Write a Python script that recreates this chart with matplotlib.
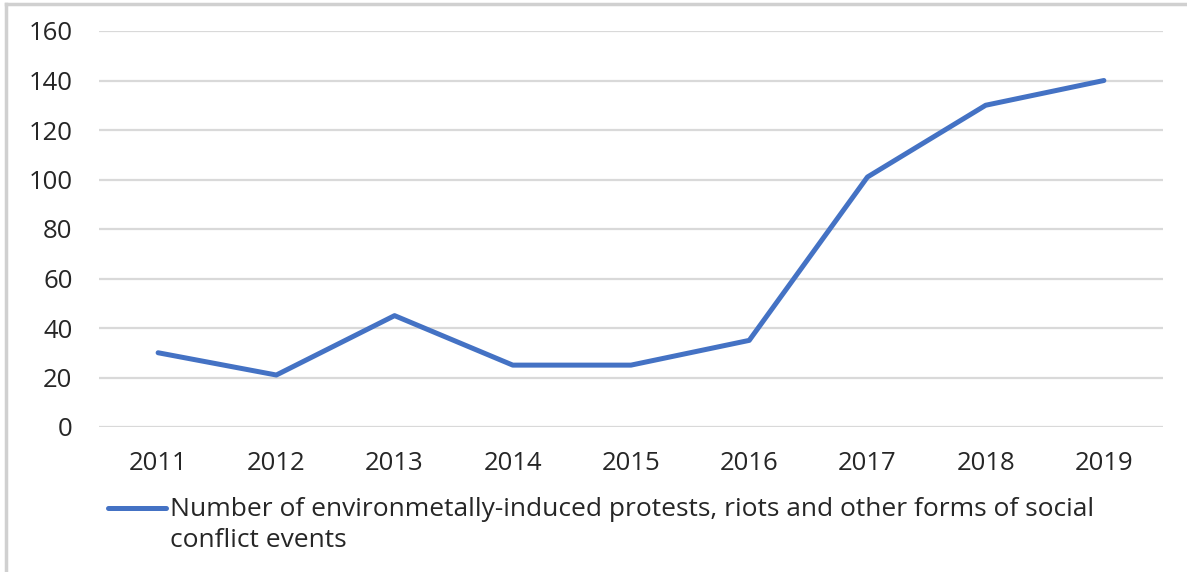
import matplotlib.pyplot as plt
from matplotlib.lines import Line2D

years = ['2011', '2012', '2013', '2014', '2015', '2016', '2017', '2018', '2019']
events = [30, 21, 45, 25, 25, 35, 101, 130, 140]
y_ticks = [0, 20, 40, 60, 80, 100, 120, 140, 160]
series_name = ('Number of environmetally-induced protests, riots and other forms of social\n'
               'conflict events')

plt.rcParams['font.family'] = ['Open Sans', 'DejaVu Sans']
text_color = '#262626'
line_color = '#4472C4'
W, H = 1187, 572

fig = plt.figure(figsize=(11.87, 5.72), dpi=100)
ax = fig.add_axes([99 / W, 145 / H, 1064 / W, 396 / H])

x = list(range(len(years)))
ax.plot(x, events, color=line_color, linewidth=3.6, solid_capstyle='round',
        solid_joinstyle='round', zorder=3)

ax.set_xlim(-0.5, len(years) - 0.5)
ax.set_ylim(0, 160)
ax.set_yticks(y_ticks)
ax.set_xticks(x)
ax.set_xticklabels(years)
ax.grid(axis='y', color='#d9d9d9', linewidth=1.6)
ax.set_axisbelow(True)
for s in ax.spines.values():
    s.set_visible(False)
ax.tick_params(axis='both', length=0, labelsize=18.5, colors=text_color)
ax.tick_params(axis='y', pad=19)
ax.tick_params(axis='x', pad=17)

# legend below the plot: handle sits level with the first text line
fig.add_artist(Line2D([108 / W, 166 / W], [1 - 508 / H, 1 - 508 / H],
                      transform=fig.transFigure, color=line_color, linewidth=3.6,
                      solid_capstyle='round'))
fig.text(170 / W, 1 - 497 / H, series_name, fontsize=19, color=text_color,
         ha='left', va='top', linespacing=1.3)

# thin frame on the left and top edges
fig.add_artist(Line2D([6 / W, 6 / W], [0, 1 - 4 / H], transform=fig.transFigure,
                      color='#d0d0d0', linewidth=2.5))
fig.add_artist(Line2D([6 / W, 1], [1 - 4 / H, 1 - 4 / H], transform=fig.transFigure,
                      color='#d0d0d0', linewidth=2.5))

fig.savefig('out.png', dpi=100)
